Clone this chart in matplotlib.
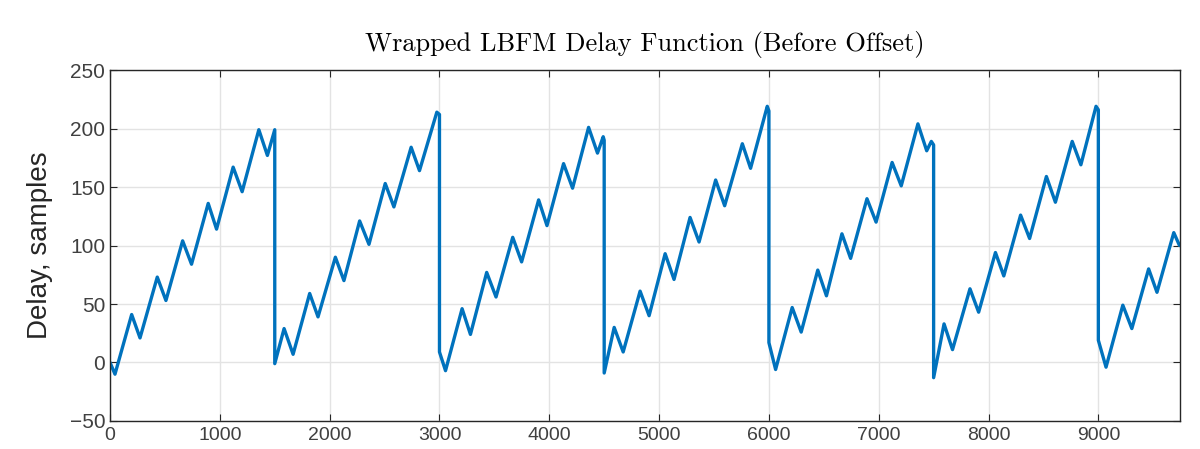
import matplotlib
matplotlib.use("Agg")
import matplotlib.pyplot as plt

sample_idx = [0, 45, 197, 273, 430, 509, 661, 742, 894, 970, 1121, 1203, 1355, 1433, 1500,
              1500, 1585, 1667, 1818, 1894, 2052, 2130, 2273, 2358, 2506, 2585, 2742, 2818, 2976, 3000,
              3000, 3055, 3206, 3282, 3430, 3515, 3667, 3748, 3903, 3979, 4130, 4212, 4358, 4439, 4491, 4500,
              4500, 4591, 4673, 4827, 4909, 5055, 5136, 5282, 5364, 5515, 5597, 5758, 5833, 5985, 6000,
              6000, 6061, 6212, 6294, 6445, 6524, 6665, 6744, 6893, 6976, 7122, 7205, 7357, 7437, 7479, 7500,
              7500, 7595, 7672, 7831, 7910, 8063, 8139, 8292, 8374, 8527, 8609, 8762, 8841, 8979, 9000,
              9000, 9070, 9223, 9305, 9458, 9534, 9687, 9739]
delay = [0, -10, 41, 21, 73, 53, 104, 84, 136, 114, 167, 146, 199, 177, 199,
         -1, 29, 7, 59, 39, 90, 70, 121, 101, 153, 133, 184, 164, 214, 212,
         9, -7, 46, 24, 77, 56, 107, 86, 139, 117, 170, 149, 201, 179, 193, 190,
         -9, 30, 9, 61, 40, 93, 71, 124, 103, 156, 134, 187, 166, 219, 215,
         17, -6, 47, 26, 79, 57, 110, 89, 140, 120, 171, 151, 204, 181, 189, 186,
         -13, 33, 11, 63, 43, 94, 74, 126, 106, 159, 137, 189, 169, 219, 216,
         19, -4, 49, 29, 80, 60, 111, 100]

xticks = [0, 1000, 2000, 3000, 4000, 5000, 6000, 7000, 8000, 9000]
yticks = [-50, 0, 50, 100, 150, 200, 250]

plt.rcParams['font.family'] = ['Liberation Sans', 'DejaVu Sans']
fig = plt.figure(figsize=(12, 4.49), dpi=100)
ax = fig.add_axes([0.0917, 0.0624, 0.8913, 0.7816])
ax.plot(sample_idx, delay, color='#0072BD', lw=2.4, solid_joinstyle='round', solid_capstyle='round')
ax.set_xlim(0, 9740)
ax.set_ylim(-50, 250)
ax.set_xticks(xticks)
ax.set_yticks(yticks)
ax.tick_params(direction='in', labelsize=15, colors='#262626', labelcolor='#404040', length=5,
               top=True, right=True, labeltop=False, labelright=False)
ax.tick_params(axis='x', pad=4, labelsize=14)
ax.grid(True, color='#e3e3e3', lw=1)
ax.set_axisbelow(True)
for s in ax.spines.values():
    s.set_color('#262626')
    s.set_linewidth(1)
ax.set_ylabel('Delay, samples', fontsize=20, color='#262626', labelpad=12)
ax.set_title('Wrapped LBFM Delay Function (Before Offset)', fontsize=19,
             family=['cmr10', 'DejaVu Serif'], pad=14)
fig.savefig('out.png', dpi=100)
